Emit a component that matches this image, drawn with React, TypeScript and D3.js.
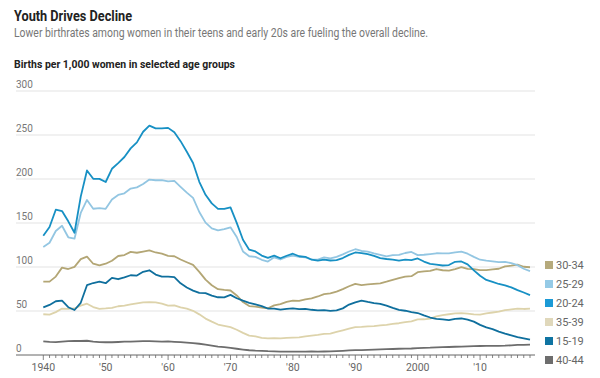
import React from "react";
import * as d3 from "d3";

const years: number[] = d3.range(1940, 2019);

const age1519 = [54.1,56.9,61.1,61.7,54.3,51.1,59.3,79.3,81.8,83.4,81.6,87.6,86.1,88.2,90.6,90.3,94.6,96.3,91.4,89.1,89.1,88.6,81.4,76.7,73.1,70.5,70.3,67.5,65.6,65.5,68.3,64.5,61.7,59.3,57.5,55.6,52.8,52.8,51.5,52.3,53.0,52.2,52.4,51.4,50.6,51.0,50.2,50.6,53.0,57.3,59.9,61.8,60.3,59.0,58.2,56.0,53.5,51.3,50.3,48.8,47.7,45.0,42.6,41.1,40.5,39.7,41.1,41.5,40.2,37.9,34.2,31.3,29.4,26.5,24.2,22.3,20.3,18.8,17.4];
const age2024 = [135.6,145.4,165.1,163.6,151.9,138.9,180.0,209.7,200.3,200.2,196.6,211.6,218.0,225.0,234.8,241.6,253.7,260.6,257.5,257.5,258.1,253.1,243.0,230.9,218.2,196.8,182.0,172.3,166.0,166.0,167.8,150.1,131.0,119.7,117.7,113.0,110.3,112.9,109.9,112.8,115.1,112.2,111.6,108.3,107.3,108.3,107.4,107.9,110.2,113.8,116.5,115.7,114.6,112.6,110.1,109.1,108.3,107.3,108.4,107.9,109.7,106.2,103.6,102.6,101.7,102.2,105.9,106.3,103.0,96.2,90.0,85.3,83.1,80.7,79.0,76.8,73.8,71.0,68.0];
const age2529 = [122.8,127.6,140.9,146.9,133.8,132.2,161.4,176.2,166.2,166.9,166.1,176.6,181.9,183.8,189.1,190.5,194.3,199.4,198.6,198.8,197.4,197.8,191.1,184.5,178.5,162.5,150.4,143.9,141.6,143.0,145.1,134.1,117.7,112.2,111.5,108.2,106.2,111.0,108.5,111.4,112.9,111.5,111.0,108.7,108.3,111.0,109.8,111.6,114.4,117.6,120.2,118.2,117.4,115.5,113.9,112.2,113.4,113.8,115.9,117.1,113.5,113.9,114.7,115.6,115.5,115.5,116.7,117.5,115.1,111.5,108.3,107.2,106.5,105.5,105.8,104.3,102.1,98.0,95.3];
const age3034 = [83.4,83.4,89.1,99.3,97.7,100.2,108.9,111.8,103.7,101.8,103.7,107.1,112.5,113.6,117.2,116.2,117.5,118.9,116.5,115.1,112.7,112.2,108.5,105.4,102.4,94.4,85.6,79.3,74.8,73.9,73.3,67.7,60.1,55.6,54.9,53.8,53.1,56.4,57.8,60.3,61.9,61.4,63.1,64.3,66.5,69.1,70.1,72.1,74.8,78.1,80.8,79.5,80.2,80.8,81.5,83.3,85.3,87.3,89.0,89.6,94.1,95.1,95.5,97.7,96.3,95.9,97.7,99.9,97.8,97.5,96.5,96.5,97.3,98.0,100.8,101.5,102.7,100.3,99.7];
const age3539 = [46.3,45.9,48.7,52.8,52.3,52.9,56.1,58.3,54.5,52.5,52.9,53.5,55.4,56.2,57.5,58.7,59.9,60.1,59.9,58.5,56.2,56.3,54.1,52.6,50.2,46.2,41.4,37.9,34.6,33.1,31.7,28.7,25.1,22.1,21.2,19.5,19.0,19.2,19.0,19.5,19.8,20.0,21.2,22.0,22.9,24.0,24.4,26.3,28.1,29.9,31.7,32.0,32.5,32.9,33.7,34.3,35.3,36.1,37.4,38.3,40.4,40.6,41.4,43.8,45.4,46.3,47.3,47.5,46.9,46.1,45.9,47.2,48.3,49.3,51.0,51.8,52.7,52.3,52.6];
const age4044 = [15.6,14.9,14.7,15.3,15.7,15.9,15.9,16.2,15.2,14.7,14.5,14.5,14.8,15.1,15.3,15.5,15.7,15.8,15.5,15.2,15.5,15.0,14.6,14.0,13.4,12.8,11.7,10.6,9.6,9.0,8.1,7.1,6.2,5.4,4.9,4.6,4.3,4.2,3.9,3.9,3.9,3.8,3.9,4.0,3.9,4.0,4.1,4.4,4.8,5.2,5.5,5.5,5.9,6.1,6.4,6.6,6.8,7.1,7.3,7.4,7.9,8.1,8.3,8.7,8.9,9.1,9.4,9.5,9.9,10.1,10.2,10.3,10.4,10.4,10.6,11.0,11.4,11.6,11.8];

const yTicks = [0, 50, 100, 150, 200, 250, 300];
const xMajor = [1940, 1950, 1960, 1970, 1980, 1990, 2000, 2010];
const xLabels = ["1940", "'50", "'60", "'70", "'80", "'90", "2000", "'10"];

const legendLabels = ["30-34", "25-29", "20-24", "35-39", "15-19", "40-44"];
const legendColors = ["#b6aa7c", "#95cae6", "#1b9ad6", "#e0d8bb", "#0f74a2", "#6d6d6d"];

const seriesDraw = [
  { values: age4044, color: "#6d6d6d" },
  { values: age3539, color: "#ddd3ab" },
  { values: age3034, color: "#b3a675" },
  { values: age1519, color: "#0f6f9d" },
  { values: age2529, color: "#93c6e2" },
  { values: age2024, color: "#1790c4" },
];

export default function App() {
  const W = 600, H = 378;
  const x = d3.scaleLinear().domain([1940, 2018]).range([43.3, 530]);
  const y = d3.scaleLinear().domain([0, 300]).range([355, 91]);
  const line = (vals: number[]) =>
    d3.line<number>().x((_, i) => x(years[i])).y((v) => y(v)).curve(d3.curveLinear)(vals) || "";
  const font = "Roboto, 'Open Sans', sans-serif";
  return (
    <svg width={W} height={H} style={{ position: "absolute", left: 0, top: 0, background: "#fff" }} fontFamily={font}>
      <text x={14} y={21} fontSize={14.5} fontWeight={700} fill="#222" textLength={118} lengthAdjust="spacingAndGlyphs">Youth Drives Decline</text>
      <text x={14} y={37} fontSize={12} fill="#777" textLength={414} lengthAdjust="spacingAndGlyphs">Lower birthrates among women in their teens and early 20s are fueling the overall decline.</text>
      <text x={14} y={68} fontSize={11.5} fontWeight={700} fill="#222" textLength={221} lengthAdjust="spacingAndGlyphs">Births per 1,000 women in selected age groups</text>
      {yTicks.map((t) => (
        <g key={t}>
          {t > 0 && <line x1={16} x2={535} y1={y(t)} y2={y(t)} stroke="#e3e3e3" strokeWidth={1} />}
          <text x={16} y={y(t) - 3} fontSize={10} fill="#777">{t}</text>
        </g>
      ))}
      {seriesDraw.map((s, i) => (
        <path key={i} d={line(s.values)} fill="none" stroke={s.color} strokeWidth={1.8} strokeLinejoin="round" />
      ))}
      <line x1={16} x2={535} y1={y(0)} y2={y(0)} stroke="#666" strokeWidth={1} />
      {years.map((yr) => (
        <line key={yr} x1={x(yr)} x2={x(yr)} y1={y(0)} y2={y(0) + (yr % 10 === 0 ? 5 : 3)} stroke="#666" strokeWidth={0.8} />
      ))}
      {xMajor.map((yr, i) => (
        <text key={yr} x={x(yr)} y={371} fontSize={10.5} fill="#666" textAnchor="middle">{xLabels[i]}</text>
      ))}
      {legendLabels.map((lab, i) => (
        <g key={lab} transform={`translate(545, ${265 + i * 19})`}>
          <rect x={0} y={-4} width={8} height={8} fill={legendColors[i]} />
          <text x={11} y={4} fontSize={11} fill="#666">{lab}</text>
        </g>
      ))}
    </svg>
  );
}
